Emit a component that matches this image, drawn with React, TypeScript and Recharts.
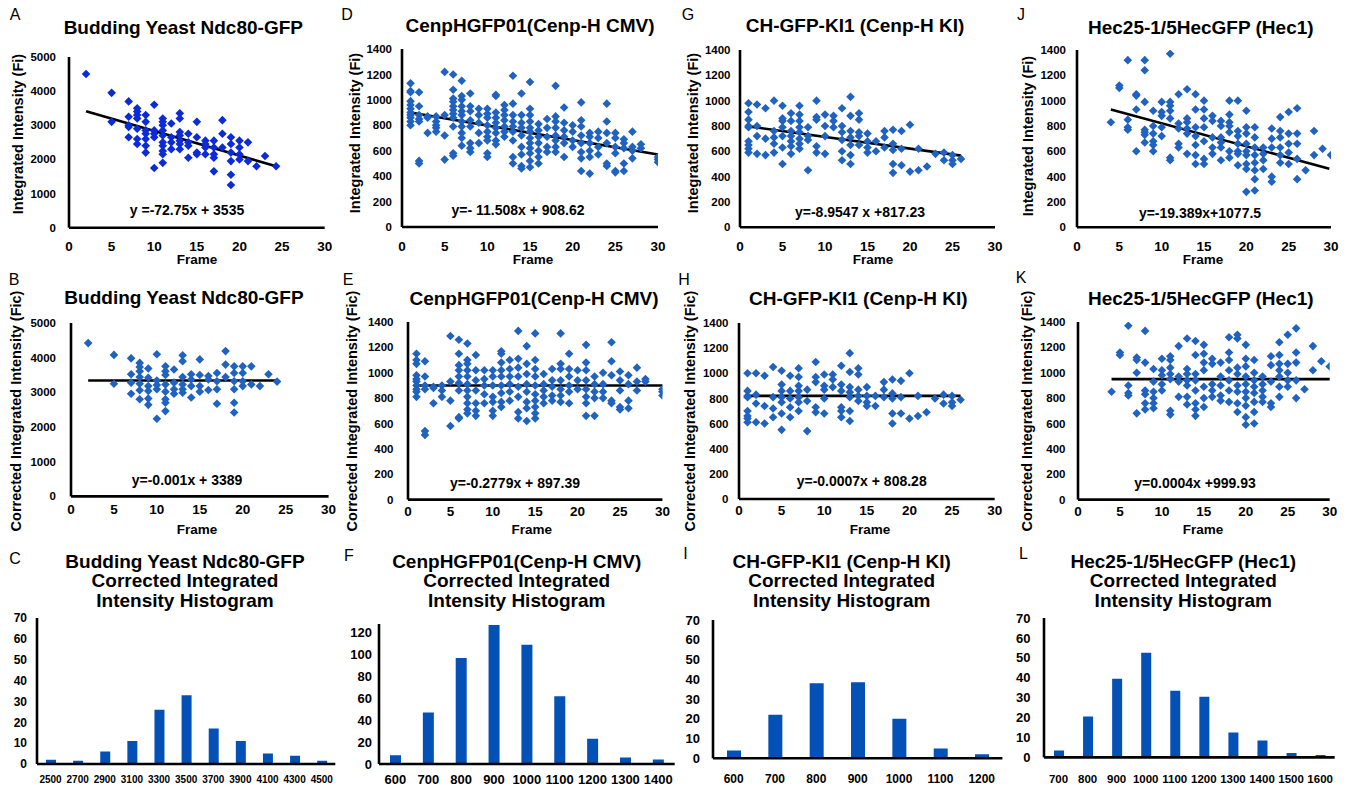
import React from 'react';
import { ScatterChart, Scatter, XAxis, YAxis, ReferenceLine, BarChart, Bar } from 'recharts';

const FONT = '"Liberation Sans", Arial, Helvetica, sans-serif';

type Col = [number, number[]];
type Pt = [number, number];

// ---------- tick labels ----------
const frameTicks = [0, 5, 10, 15, 20, 25, 30];
const yeastTicks = [0, 1000, 2000, 3000, 4000, 5000];
const intensityTicks = [0, 200, 400, 600, 800, 1000, 1200, 1400];

// ---------- scatter data: [frame, intensities at that frame] ----------
const dataA: Col[] = [
  [2, [4500]], [5, [3950, 3100]], [7, [3700, 3250, 3000, 2950, 2650]],
  [8, [3500, 3400, 3300, 3200, 2900, 2600, 2450]], [9, [3300, 3100, 2850, 2750, 2600, 2400, 2200]],
  [10, [3600, 2850, 2750, 2650, 1750]], [11, [3200, 3100, 3000, 2850, 2700, 2500, 2400, 2250, 2150, 1900]],
  [12, [3050, 2650, 2500, 2300]], [13, [3350, 3200, 2800, 2700, 2550, 2450, 2300]],
  [14, [2750, 2500, 2400, 2050]], [15, [3100, 2650, 2200, 2150]], [16, [2550, 2450, 2350, 2150]],
  [17, [2550, 2350, 2150, 2050, 1650]], [18, [3150, 2750, 2350]],
  [19, [2650, 2450, 2200, 1950, 1550, 1250]], [20, [2550, 2350, 2150, 2000]],
  [21, [2500, 1950]], [22, [1800]], [23, [2100]], [24.3, [1800]],
];
const trendA: Pt[] = [[2, 3410], [24.3, 1800]];

const dataB: Col[] = [
  [2, [4420]], [5, [4080, 3250]], [7, [3980, 3520, 3280, 2960]],
  [8, [3850, 3730, 3610, 3440, 3250, 3060, 2800]], [9, [3690, 3420, 3180, 3040, 2820, 2640]],
  [10, [4100, 3340, 3210, 3090, 2240]], [11, [3750, 3610, 3500, 3230, 3020, 2800, 2700, 2460]],
  [12, [3660, 3280, 3090, 2960]], [13, [4070, 3900, 3440, 3230, 3090, 2990]],
  [14, [3520, 3370, 3180, 2850]], [15, [3950, 3500, 3180, 3020]], [16, [3470, 3370, 3070]],
  [17, [3560, 3320, 3090, 2670]], [18, [4190, 3800, 3440]],
  [19, [3750, 3560, 3320, 3090, 2700, 2420]], [20, [3750, 3560, 3320, 3180]],
  [21, [3750, 3230]], [22, [3180]], [23, [3520]], [24, [3310]],
];
const trendB: Pt[] = [[2, 3340], [24, 3340]];

const dataD: Col[] = [
  [1, [1130, 1070, 1060, 990, 960, 930, 900, 880, 860, 830, 800]],
  [2, [1060, 950, 880, 850, 830, 520, 500]], [3, [870, 860, 740]], [4, [870, 830, 800, 780, 750]],
  [5, [1220, 880, 720, 530]], [6, [1200, 1080, 1010, 985, 950, 920, 890, 860, 790, 580, 560]],
  [7, [1150, 1030, 1000, 950, 910, 880, 830, 790, 740, 700, 640]],
  [8, [1050, 950, 910, 840, 790, 660, 620, 590]], [9, [930, 880, 820, 740, 660]],
  [10, [930, 890, 860, 800, 750, 710, 680, 580, 550]],
  [11, [1040, 1030, 900, 860, 820, 780, 740, 680, 650]], [12, [960, 920, 880, 840, 790, 750, 710]],
  [13, [1190, 970, 880, 830, 790, 750, 680, 550, 500]],
  [14, [1050, 880, 820, 780, 720, 630, 570, 480, 460]],
  [15, [1140, 930, 880, 830, 780, 750, 700, 660, 620, 580, 520, 470]],
  [16, [810, 760, 710, 660, 600, 550, 500]], [17, [850, 780, 710, 630, 590]],
  [18, [1110, 870, 830, 780, 720, 680, 630, 590]], [19, [940, 820, 760, 710, 660, 550]],
  [20, [800, 750, 680, 630]], [21, [980, 840, 790, 720, 660, 590, 540, 440]],
  [22, [740, 710, 660, 600, 550, 420]], [23, [750, 700, 630, 570]],
  [24, [970, 830, 740, 660, 500, 480]], [25, [740, 700, 630, 580, 440, 430]],
  [26, [690, 660, 620, 500, 440]], [27, [750, 630, 600, 540]], [28, [650, 620]], [30, [550, 530, 510]],
];
const trendD: Pt[] = [[1, 900], [30, 570]];

const dataE: Col[] = [
  [1, [1150, 1100, 1070, 980, 950, 930, 900, 870, 850, 810]], [2, [1090, 970, 900, 870, 540, 510]],
  [3, [890, 880, 760]], [4, [900, 860, 810]], [5, [1290, 930, 780, 580]],
  [6, [1260, 1150, 1060, 1020, 970, 920, 860, 650, 640]],
  [7, [1230, 1100, 1070, 1020, 970, 910, 860, 810, 760, 710, 680]],
  [8, [1140, 1020, 940, 860, 760, 700, 660]], [9, [1020, 950, 900, 830, 760]],
  [10, [1020, 970, 900, 810, 770, 700, 660]], [11, [1170, 1150, 1080, 1020, 970, 900, 840, 770, 730]],
  [12, [1100, 1030, 970, 910, 850, 780]], [13, [1330, 1110, 1040, 970, 890, 810, 690, 640]],
  [14, [1210, 1070, 990, 910, 850, 770, 720, 620]],
  [15, [1310, 1100, 1030, 970, 900, 830, 780, 730, 680, 640]],
  [16, [990, 910, 860, 810, 760]], [17, [1030, 940, 890, 820, 780]],
  [18, [1310, 1070, 1030, 940, 870, 820, 770]], [19, [1150, 1030, 970, 900, 850, 760]],
  [20, [1020, 940, 870]], [21, [1220, 1080, 1020, 940, 870, 810, 760, 660]],
  [22, [970, 910, 850, 800, 660]], [23, [1000, 910, 850, 800]], [24, [1240, 1090, 980, 780, 760]],
  [25, [1010, 940, 860, 730, 710]], [26, [980, 910, 780, 720]], [27, [1040, 930, 860]],
  [28, [950, 930]], [30, [870, 850, 820]],
];
const trendE: Pt[] = [[1, 900], [30, 900]];

const dataG: Col[] = [
  [1, [980, 910, 850, 800, 790, 680, 650, 620, 590]], [2, [970, 800, 720, 580]], [3, [940, 700, 570]],
  [4, [1000, 760, 710, 660, 590]], [5, [960, 860, 840, 790, 720, 630, 500]],
  [6, [900, 840, 760, 720, 680, 640, 580]], [7, [960, 890, 840, 790, 750, 700, 660, 620]],
  [8, [790, 720, 690, 450]], [9, [1000, 870, 850, 640, 590]], [10, [890, 800, 720, 580]],
  [11, [880, 840, 790]], [12, [940, 800, 750, 690, 600, 530]],
  [13, [1030, 880, 760, 710, 650, 570, 500]], [14, [900, 850, 750, 720, 650]],
  [15, [740, 680, 630, 590]], [16, [680, 600]], [17, [760, 710, 630]],
  [18, [770, 660, 610, 500, 430]], [19, [760, 620, 490]], [20, [810, 440]], [21, [620, 450]],
  [22, [480]], [23, [580]], [24, [590, 530]], [25, [570, 530, 500]], [26, [540]],
];
const trendG: Pt[] = [[1, 797], [26, 566]];

const dataH: Col[] = [
  [1, [1000, 860, 820, 810, 700, 660, 640, 610]], [2, [1000, 830, 760, 610]], [3, [980, 740, 600]],
  [4, [1050, 810, 720, 650]], [5, [1020, 910, 860, 810, 770, 680, 550]],
  [6, [980, 860, 800, 730, 650]], [7, [1040, 970, 900, 860, 810, 770, 700]], [8, [870, 780, 540]],
  [9, [1090, 970, 930, 730, 690]], [10, [990, 900, 870, 800, 680]], [11, [990, 950, 890]],
  [12, [1060, 910, 860, 730, 700, 650]], [13, [1160, 1010, 890, 850, 810, 700, 620]],
  [14, [1040, 990, 870, 820, 780]], [15, [890, 820, 770, 740]], [16, [820, 740]],
  [17, [930, 870, 810]], [18, [950, 840, 800, 680, 600]], [19, [940, 810, 680]],
  [20, [1000, 640]], [21, [820, 660]], [22, [690]], [23, [800]], [24, [830, 760]],
  [25, [820, 770, 740]], [26, [790]],
];
const trendH: Pt[] = [[0.8, 820], [26, 820]];

const dataJ: Col[] = [
  [4, [830]], [5, [1120, 1100]], [6, [1320, 850, 790, 770]], [7, [1050, 1040, 930, 600]],
  [8, [1320, 1240, 990, 770, 750, 730, 670]], [9, [920, 800, 740, 680, 650, 600]],
  [10, [990, 910, 880, 790, 720]], [11, [1370, 990, 960, 920, 860, 550, 530]],
  [12, [1050, 820, 780, 660, 630]], [13, [1090, 860, 830, 780, 740, 580]],
  [14, [1050, 930, 790, 720, 650, 570, 500]], [15, [1000, 930, 860, 790, 680, 540, 500]],
  [16, [880, 840, 710, 630, 580]], [17, [840, 800, 710, 670, 630, 530]],
  [18, [1000, 890, 830, 800, 750, 600, 550]], [19, [1000, 760, 720, 660, 600, 580, 490]],
  [20, [920, 790, 740, 660, 600, 570, 500, 460, 280]], [21, [790, 710, 630, 570, 510, 450, 380, 290]],
  [22, [630, 580, 530, 460]], [23, [780, 700, 630, 400, 360]], [24, [870, 760, 710, 630, 570, 510]],
  [25, [910, 740, 660, 590, 500]], [26, [940, 740, 660, 540, 380]], [27, [450]], [28, [760, 570]],
  [29, [620]], [30, [570]],
];
const trendJ: Pt[] = [[4, 930], [29.8, 462]];

const dataK: Col[] = [
  [4, [850]], [5, [1160, 1140]], [6, [1370, 900, 840, 820]], [7, [1120, 1100, 1000, 680]],
  [8, [1330, 1080, 860, 830, 760, 710]], [9, [1030, 930, 850, 800, 760, 720]],
  [10, [1110, 1020, 980, 910, 860]], [11, [1130, 1100, 1040, 990, 950, 700, 670]],
  [12, [1210, 970, 930, 810]], [13, [1270, 1030, 990, 940, 900, 810, 750]],
  [14, [1250, 1140, 990, 940, 860, 760, 710, 660]], [15, [1220, 1150, 1080, 1020, 890, 800, 730]],
  [16, [1110, 1070, 910, 860, 810]], [17, [1080, 970, 900, 820, 780]],
  [18, [1280, 1160, 1100, 1020, 940, 860, 770]], [19, [1300, 1270, 1040, 990, 900, 850, 760, 690]],
  [20, [1220, 1110, 1050, 970, 910, 850, 800, 740, 650, 590]],
  [21, [1100, 1000, 940, 890, 840, 770, 690, 600]], [22, [970, 910, 860, 810, 770]],
  [23, [1130, 1060, 930, 760, 730]], [24, [1240, 1140, 1070, 1020, 970, 890, 810]],
  [25, [1300, 1070, 1000, 940, 890]], [26, [1350, 1160, 1080, 940, 800]], [27, [870]],
  [28, [1210, 1020]], [29, [1090]], [30, [1050]],
];
const trendK: Pt[] = [[4, 950], [30, 950]];

// ---------- histogram data ----------
const binsC = ['2500', '2700', '2900', '3100', '3300', '3500', '3700', '3900', '4100', '4300', '4500'];
const countsC = [2, 1.5, 6, 11, 26, 33, 17, 11, 5, 4, 1.5];
const ticksC = [0, 10, 20, 30, 40, 50, 60, 70];

const binsF = ['600', '700', '800', '900', '1000', '1100', '1200', '1300', '1400'];
const countsF = [8, 47, 97, 127, 109, 62, 23, 6, 4];
const ticksF = [0, 20, 40, 60, 80, 100, 120];

const binsI = ['600', '700', '800', '900', '1000', '1100', '1200'];
const countsI = [4, 22, 38, 38.5, 20, 5, 2];
const ticksI = [0, 10, 20, 30, 40, 50, 60, 70];

const binsL = ['700', '800', '900', '1000', '1100', '1200', '1300', '1400', '1500', '1600'];
const countsL = [3.5, 20.5, 39.5, 52.5, 33.5, 30.5, 12.5, 8.5, 2.2, 1.2];
const ticksL = [0, 10, 20, 30, 40, 50, 60, 70];

// ---------- helpers ----------
const flatten = (cols: Col[]) => cols.flatMap(([x, ys]) => ys.map((y) => ({ x, y })));

const diamond = (color: string, r: number) => (props: any) => {
  const { cx, cy } = props;
  if (cx == null || cy == null) return <g />;
  return <polygon points={`${cx},${cy - r} ${cx + r},${cy} ${cx},${cy + r} ${cx - r},${cy}`} fill={color} />;
};

type Rect = { left: number; right: number; top: number; bottom: number };

const axisLineStyle = { stroke: '#000', strokeWidth: 2.6 };

function ScatterPanel(p: {
  plot: Rect; cols: Col[]; trend: Pt[]; color: string; yMax: number; yTicks: number[];
  yTickMargin: number; xTickMargin: number;
}) {
  const YW = 60, XH = 34, MT = 10, MR = 14;
  const { plot } = p;
  const width = plot.right - plot.left + YW + MR;
  const height = plot.bottom - plot.top + MT + XH;
  return (
    <div style={{ position: 'absolute', left: plot.left - YW, top: plot.top - MT, width, height }}>
      <ScatterChart width={width} height={height} margin={{ top: MT, right: MR, left: 0, bottom: 0 }}>
        <XAxis type="number" dataKey="x" domain={[0, 30]} ticks={frameTicks} interval={0} height={XH}
          allowDataOverflow tickLine={false} tickSize={0} tickMargin={p.xTickMargin} axisLine={axisLineStyle}
          tick={{ fontSize: 13.5, fontWeight: 700, fill: '#000', fontFamily: FONT }} />
        <YAxis type="number" dataKey="y" domain={[0, p.yMax]} ticks={p.yTicks} interval={0} width={YW}
          allowDataOverflow tickLine={false} tickSize={0} tickMargin={p.yTickMargin} axisLine={axisLineStyle}
          tick={{ fontSize: 11.5, fontWeight: 700, fill: '#000', fontFamily: FONT }} />
        <Scatter data={flatten(p.cols)} fill={p.color} shape={diamond(p.color, 4.3)} isAnimationActive={false} />
        <ReferenceLine segment={[{ x: p.trend[0][0], y: p.trend[0][1] }, { x: p.trend[1][0], y: p.trend[1][1] }]}
          stroke="#000" strokeWidth={2.6} />
      </ScatterChart>
    </div>
  );
}

function HistPanel(p: {
  plot: Rect; bins: string[]; counts: number[]; yMax: number; yTicks: number[]; barSize: number;
  xFont: number; yFont: number; xMargin: number; yMargin: number;
}) {
  const YW = 50, XH = 31, MT = 8, MR = 4;
  const { plot } = p;
  const width = plot.right - plot.left + YW + MR;
  const height = plot.bottom - plot.top + MT + XH;
  const data = p.bins.map((b, i) => ({ bin: b, count: p.counts[i] }));
  return (
    <div style={{ position: 'absolute', left: plot.left - YW, top: plot.top - MT, width, height }}>
      <BarChart width={width} height={height} data={data} margin={{ top: MT, right: MR, left: 0, bottom: 0 }}>
        <XAxis dataKey="bin" interval={0} height={XH} tickLine={false} tickSize={0} tickMargin={p.xMargin}
          axisLine={axisLineStyle} tick={{ fontSize: p.xFont, fontWeight: 700, fill: '#000', fontFamily: FONT }} />
        <YAxis domain={[0, p.yMax]} ticks={p.yTicks} interval={0} width={YW} allowDataOverflow tickLine={false}
          tickSize={0} tickMargin={p.yMargin} axisLine={axisLineStyle}
          tick={{ fontSize: p.yFont, fontWeight: 700, fill: '#000', fontFamily: FONT }} />
        <Bar dataKey="count" fill="#0351b6" barSize={p.barSize} isAnimationActive={false} />
      </BarChart>
    </div>
  );
}

function T(p: { x: number; y: number; size: number; bold?: boolean; rotate?: boolean; children: React.ReactNode; lh?: number }) {
  return (
    <div style={{
      position: 'absolute', left: p.x, top: p.y,
      transform: `translate(-50%, -50%)${p.rotate ? ' rotate(-90deg)' : ''}`,
      fontSize: p.size, fontWeight: p.bold === false ? 400 : 700, whiteSpace: 'nowrap', color: '#000',
      fontFamily: FONT, textAlign: 'center', lineHeight: p.lh ? `${p.lh}px` : 1,
    }}>{p.children}</div>
  );
}

const BLUE_A = '#0b2bd8';
const BLUE = '#1f62c0';

export default function App() {
  return (
    <div style={{ position: 'absolute', left: 0, top: 0, width: 1350, height: 789, background: '#fff', overflow: 'hidden', fontFamily: FONT }}>
      {/* Row 1 */}
      <ScatterPanel plot={{ left: 69.3, right: 325, top: 57.3, bottom: 228 }} cols={dataA} trend={trendA} color={BLUE_A}
        yMax={5000} yTicks={yeastTicks} yTickMargin={13} xTickMargin={13.5} />
      <ScatterPanel plot={{ left: 402.3, right: 658.3, top: 49.3, bottom: 227.3 }} cols={dataD} trend={trendD} color={BLUE}
        yMax={1400} yTicks={intensityTicks} yTickMargin={10} xTickMargin={14} />
      <ScatterPanel plot={{ left: 740, right: 995, top: 50, bottom: 227.3 }} cols={dataG} trend={trendG} color={BLUE}
        yMax={1400} yTicks={intensityTicks} yTickMargin={9.5} xTickMargin={14} />
      <ScatterPanel plot={{ left: 1076.7, right: 1330.7, top: 50, bottom: 227.3 }} cols={dataJ} trend={trendJ} color={BLUE}
        yMax={1400} yTicks={intensityTicks} yTickMargin={11} xTickMargin={14} />

      {/* Row 2 */}
      <ScatterPanel plot={{ left: 70.7, right: 328.3, top: 323.3, bottom: 496.7 }} cols={dataB} trend={trendB} color={BLUE}
        yMax={5000} yTicks={yeastTicks} yTickMargin={15} xTickMargin={8.5} />
      <ScatterPanel plot={{ left: 408.3, right: 662.7, top: 321.7, bottom: 499.3 }} cols={dataE} trend={trendE} color={BLUE}
        yMax={1400} yTicks={intensityTicks} yTickMargin={14.5} xTickMargin={6.5} />
      <ScatterPanel plot={{ left: 739.3, right: 995, top: 323.3, bottom: 499.3 }} cols={dataH} trend={trendH} color={BLUE}
        yMax={1400} yTicks={intensityTicks} yTickMargin={10.5} xTickMargin={6.5} />
      <ScatterPanel plot={{ left: 1078.3, right: 1330, top: 321.7, bottom: 499.3 }} cols={dataK} trend={trendK} color={BLUE}
        yMax={1400} yTicks={intensityTicks} yTickMargin={12.5} xTickMargin={6.5} />

      {/* Row 3 histograms */}
      <HistPanel plot={{ left: 36.7, right: 335, top: 618.3, bottom: 764.3 }} bins={binsC} counts={countsC} yMax={70}
        yTicks={ticksC} barSize={10} xFont={10} yFont={12} xMargin={12} yMargin={10} />
      <HistPanel plot={{ left: 379.3, right: 675, top: 624, bottom: 764 }} bins={binsF} counts={countsF} yMax={128}
        yTicks={ticksF} barSize={11} xFont={13} yFont={13} xMargin={10.5} yMargin={7} />
      <HistPanel plot={{ left: 713.3, right: 1002.7, top: 620, bottom: 758.3 }} bins={binsI} counts={countsI} yMax={70}
        yTicks={ticksI} barSize={14} xFont={12} yFont={13} xMargin={16.5} yMargin={13} />
      <HistPanel plot={{ left: 1044.3, right: 1335, top: 618.3, bottom: 757.7 }} bins={binsL} counts={countsL} yMax={70}
        yTicks={ticksL} barSize={10} xFont={11.5} yFont={13} xMargin={17.5} yMargin={13.5} />

      {/* Panel letters */}
      <T x={15} y={15} size={16} bold={false}>A</T>
      <T x={347} y={15} size={16} bold={false}>D</T>
      <T x={688} y={15} size={16} bold={false}>G</T>
      <T x={1021} y={15} size={16} bold={false}>J</T>
      <T x={14} y={280} size={16} bold={false}>B</T>
      <T x={348} y={280} size={16} bold={false}>E</T>
      <T x={684} y={280} size={16} bold={false}>H</T>
      <T x={1021} y={278} size={16} bold={false}>K</T>
      <T x={15} y={559} size={16} bold={false}>C</T>
      <T x={349} y={556} size={16} bold={false}>F</T>
      <T x={685.5} y={554} size={16} bold={false}>I</T>
      <T x={1023.5} y={554} size={16} bold={false}>L</T>

      {/* Titles row 1 */}
      <T x={183.3} y={26.7} size={19}>Budding Yeast Ndc80-GFP</T>
      <T x={530} y={25} size={19}>CenpHGFP01(Cenp-H CMV)</T>
      <T x={855} y={25} size={19}>CH-GFP-KI1 (Cenp-H KI)</T>
      <T x={1200.8} y={26.7} size={19}>Hec25-1/5HecGFP (Hec1)</T>
      {/* Titles row 2 */}
      <T x={184} y={296.7} size={19}>Budding Yeast Ndc80-GFP</T>
      <T x={534} y={298.3} size={19}>CenpHGFP01(Cenp-H CMV)</T>
      <T x={858.3} y={298.3} size={19}>CH-GFP-KI1 (Cenp-H KI)</T>
      <T x={1200.8} y={298.3} size={19}>Hec25-1/5HecGFP (Hec1)</T>
      {/* Titles row 3 */}
      <T x={185} y={581.5} size={19} lh={19.7}>Budding Yeast Ndc80-GFP<br />Corrected Integrated<br />Intensity Histogram</T>
      <T x={516.7} y={581.5} size={19} lh={19.7}>CenpHGFP01(Cenp-H CMV)<br />Corrected Integrated<br />Intensity Histogram</T>
      <T x={841.7} y={581.5} size={19} lh={19.7}>CH-GFP-KI1 (Cenp-H KI)<br />Corrected Integrated<br />Intensity Histogram</T>
      <T x={1183.3} y={581.5} size={19} lh={19.7}>Hec25-1/5HecGFP (Hec1)<br />Corrected Integrated<br />Intensity Histogram</T>

      {/* Y axis titles */}
      <T x={18.3} y={133.8} size={14.5} rotate>Integrated Intensity (Fi)</T>
      <T x={354.7} y={132.5} size={14.5} rotate>Integrated Intensity (Fi)</T>
      <T x={693.3} y={133} size={14.5} rotate>Integrated Intensity (Fi)</T>
      <T x={1028} y={135.8} size={14.5} rotate>Integrated Intensity (Fi)</T>
      <T x={16} y={411} size={14.5} rotate>Corrected Integrated Intensity (Fic)</T>
      <T x={352} y={411} size={14.5} rotate>Corrected Integrated Intensity (Fic)</T>
      <T x={690} y={411} size={14.5} rotate>Corrected Integrated Intensity (Fic)</T>
      <T x={1027} y={411} size={14.5} rotate>Corrected Integrated Intensity (Fic)</T>

      {/* X axis titles */}
      <T x={197} y={259.5} size={13.5}>Frame</T>
      <T x={533} y={259.5} size={13.5}>Frame</T>
      <T x={873} y={259.5} size={13.5}>Frame</T>
      <T x={1203} y={259.5} size={13.5}>Frame</T>
      <T x={197} y={530} size={13.5}>Frame</T>
      <T x={531.7} y={530} size={13.5}>Frame</T>
      <T x={870} y={530} size={13.5}>Frame</T>
      <T x={1203} y={530} size={13.5}>Frame</T>

      {/* Equations */}
      <T x={187} y={210} size={14}>y =-72.75x + 3535</T>
      <T x={518} y={210} size={14}>y=- 11.508x + 908.62</T>
      <T x={860} y={211.7} size={14}>y=-8.9547 x +817.23</T>
      <T x={1200} y={213} size={14}>y=-19.389x+1077.5</T>
      <T x={187} y={480} size={14}>y=-0.001x + 3389</T>
      <T x={515} y={483} size={14}>y=-0.2779x + 897.39</T>
      <T x={861.7} y={480.7} size={14}>y=-0.0007x + 808.28</T>
      <T x={1195} y={483.3} size={14}>y=0.0004x +999.93</T>
    </div>
  );
}
